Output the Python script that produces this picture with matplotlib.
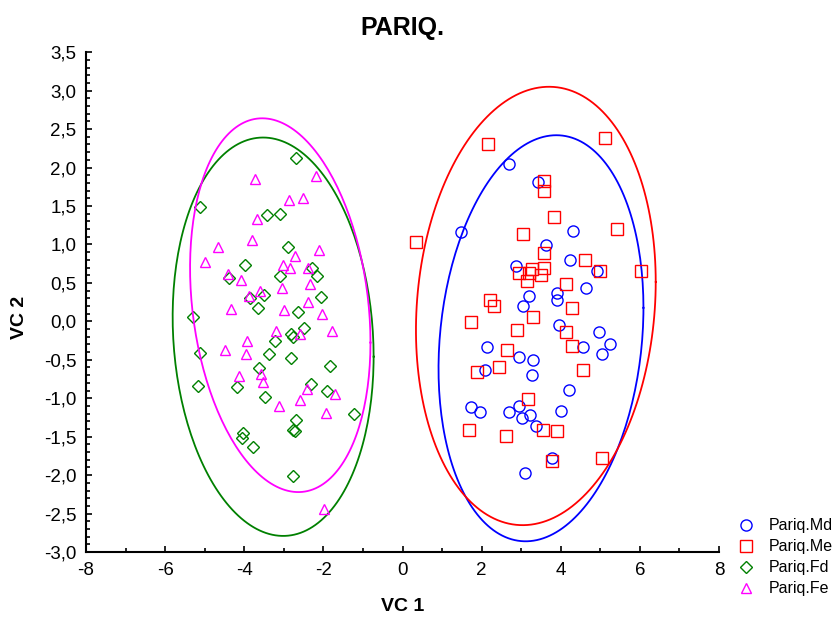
import matplotlib

matplotlib.use("Agg")
import matplotlib.pyplot as plt
import numpy as np
from matplotlib.ticker import FuncFormatter, MultipleLocator

plt.rcParams["font.family"] = ["Liberation Sans", "DejaVu Sans"]

# canonical scores (VC 1, VC 2) per group
md_x = [2.70, 3.42, 1.48, 4.32, 3.63, 4.23, 2.86, 4.92, 4.64, 3.91, 3.91, 3.19,
        3.05, 3.95, 4.97, 5.25, 4.56, 5.05, 2.13, 2.94, 3.30, 2.09, 3.27, 4.20,
        1.72, 1.96, 2.70, 2.94, 3.22, 3.02, 4.00, 3.38, 3.78, 3.10]
md_y = [2.04, 1.81, 1.16, 1.18, 0.99, 0.80, 0.72, 0.66, 0.43, 0.37, 0.28, 0.33,
        0.20, -0.05, -0.14, -0.30, -0.34, -0.43, -0.34, -0.47, -0.50, -0.63, -0.70, -0.89,
        -1.12, -1.18, -1.18, -1.10, -1.22, -1.26, -1.16, -1.36, -1.78, -1.97]

me_x = [2.17, 5.13, 0.34, 3.58, 3.58, 3.83, 5.41, 3.05, 3.58, 4.60, 3.58, 3.27,
        2.94, 3.19, 3.51, 3.14, 5.00, 6.02, 4.12, 2.21, 2.30, 4.28, 3.31, 1.72,
        2.89, 4.12, 4.28, 2.65, 2.45, 1.89, 4.56, 3.18, 1.68, 2.62, 3.55, 3.91,
        3.79, 5.05]
me_y = [2.30, 2.39, 1.03, 1.82, 1.70, 1.36, 1.20, 1.13, 0.89, 0.80, 0.70, 0.68,
        0.63, 0.63, 0.60, 0.52, 0.65, 0.65, 0.49, 0.28, 0.20, 0.18, 0.06, -0.01,
        -0.11, -0.14, -0.32, -0.37, -0.59, -0.66, -0.63, -1.01, -1.41, -1.49, -1.41, -1.43,
        -1.82, -1.78]

fd_x = [-2.70, -5.12, -3.42, -3.10, -2.90, -3.98, -2.30, -3.10, -2.17, -4.39, -3.49, -3.85,
        -2.07, -3.66, -5.29, -2.65, -2.49, -2.82, -2.76, -3.22, -5.12, -3.38, -2.82, -1.83,
        -3.63, -2.32, -5.16, -4.19, -1.92, -3.47, -1.23, -2.69, -2.78, -2.72, -4.02, -4.06,
        -3.79, -2.78]
fd_y = [2.13, 1.49, 1.38, 1.40, 0.97, 0.73, 0.70, 0.59, 0.59, 0.56, 0.34, 0.30,
        0.32, 0.18, 0.05, 0.12, -0.09, -0.17, -0.20, -0.26, -0.41, -0.43, -0.48, -0.58,
        -0.61, -0.81, -0.84, -0.86, -0.91, -0.99, -1.20, -1.28, -1.41, -1.42, -1.45, -1.52,
        -1.64, -2.01]

fe_x = [-3.72, -2.19, -2.88, -2.51, -3.69, -3.80, -4.66, -2.10, -4.98, -2.72, -3.01, -2.84,
        -2.40, -4.42, -4.09, -2.34, -3.04, -3.60, -3.89, -2.40, -4.34, -3.00, -2.03, -3.21,
        -1.78, -2.59, -3.92, -4.49, -3.96, -3.57, -4.13, -3.53, -2.42, -1.70, -2.59, -3.11,
        -1.94, -1.98]
fe_y = [1.85, 1.89, 1.58, 1.60, 1.33, 1.06, 0.97, 0.93, 0.77, 0.85, 0.73, 0.70,
        0.70, 0.62, 0.54, 0.49, 0.43, 0.39, 0.33, 0.25, 0.16, 0.15, 0.10, -0.13,
        -0.13, -0.17, -0.25, -0.37, -0.42, -0.68, -0.71, -0.79, -0.88, -0.94, -1.02, -1.10,
        -1.19, -2.44]

labels = ["Pariq.Md", "Pariq.Me", "Pariq.Fd", "Pariq.Fe"]
colors = ["#0000ff", "#ff0000", "#008000", "#ff00ff"]
markers = ["o", "s", "D", "^"]

# 95% ellipses: centre, half-extent in x and y, correlation
ell_cx = [3.50, 3.37, -3.27, -3.09]
ell_cy = [-0.22, 0.20, -0.20, 0.21]
ell_ax = [2.59, 3.03, 2.54, 2.28]
ell_ay = [2.64, 2.85, 2.59, 2.43]
ell_r = [0.15, 0.11, -0.10, -0.20]

groups = [(md_x, md_y), (me_x, me_y), (fd_x, fd_y), (fe_x, fe_y)]
msizes = [8, 8, 6.5, 7.5]

fig = plt.figure(figsize=(8.39, 6.21), dpi=100)
ax = fig.add_axes([0.1025, 0.111, 0.7545, 0.805])

t = np.linspace(0, 2 * np.pi, 200)
handles = []
for i, (gx, gy) in enumerate(groups):
    h, = ax.plot(gx, gy, ls="none", marker=markers[i], ms=msizes[i], mfc="none",
                 mec=colors[i], mew=1.0, label=labels[i])
    handles.append(h)
    r = ell_r[i]
    ex = ell_cx[i] + ell_ax[i] * np.cos(t)
    ey = ell_cy[i] + ell_ay[i] * (r * np.cos(t) + np.sqrt(1 - r * r) * np.sin(t))
    ax.plot(ex, ey, color=colors[i], lw=1.3)

ax.set_xlim(-8, 8)
ax.set_ylim(-3, 3.5)
ax.xaxis.set_major_locator(MultipleLocator(2))
ax.xaxis.set_minor_locator(MultipleLocator(1))
ax.yaxis.set_major_locator(MultipleLocator(0.5))
ax.yaxis.set_minor_locator(MultipleLocator(0.1))
ax.xaxis.set_major_formatter(FuncFormatter(lambda v, p: f"{v:.0f}"))
ax.yaxis.set_major_formatter(FuncFormatter(lambda v, p: f"{v:.1f}".replace(".", ",")))
ax.tick_params(which="both", direction="in", labelsize=13.5, width=1.2)
ax.tick_params(which="major", length=4, pad=7)
ax.tick_params(which="minor", length=3)
for s in ["top", "right"]:
    ax.spines[s].set_visible(False)
for s in ["left", "bottom"]:
    ax.spines[s].set_linewidth(1.5)

ax.set_title("PARIQ.", fontsize=18, fontweight="bold", pad=12)
ax.set_xlabel("VC 1", fontsize=14, fontweight="bold")
ax.set_ylabel("VC 2", fontsize=14, fontweight="bold")
ax.xaxis.set_label_coords(0.5, -0.092)
ax.yaxis.set_label_coords(-0.092, 0.47)

fig.legend(handles=handles, loc="upper left", bbox_to_anchor=(0.872, 0.176),
           frameon=False, fontsize=11.5, handlelength=1.0, handletextpad=0.9,
           labelspacing=0.38, borderaxespad=0)

fig.savefig("out.png", dpi=100)
